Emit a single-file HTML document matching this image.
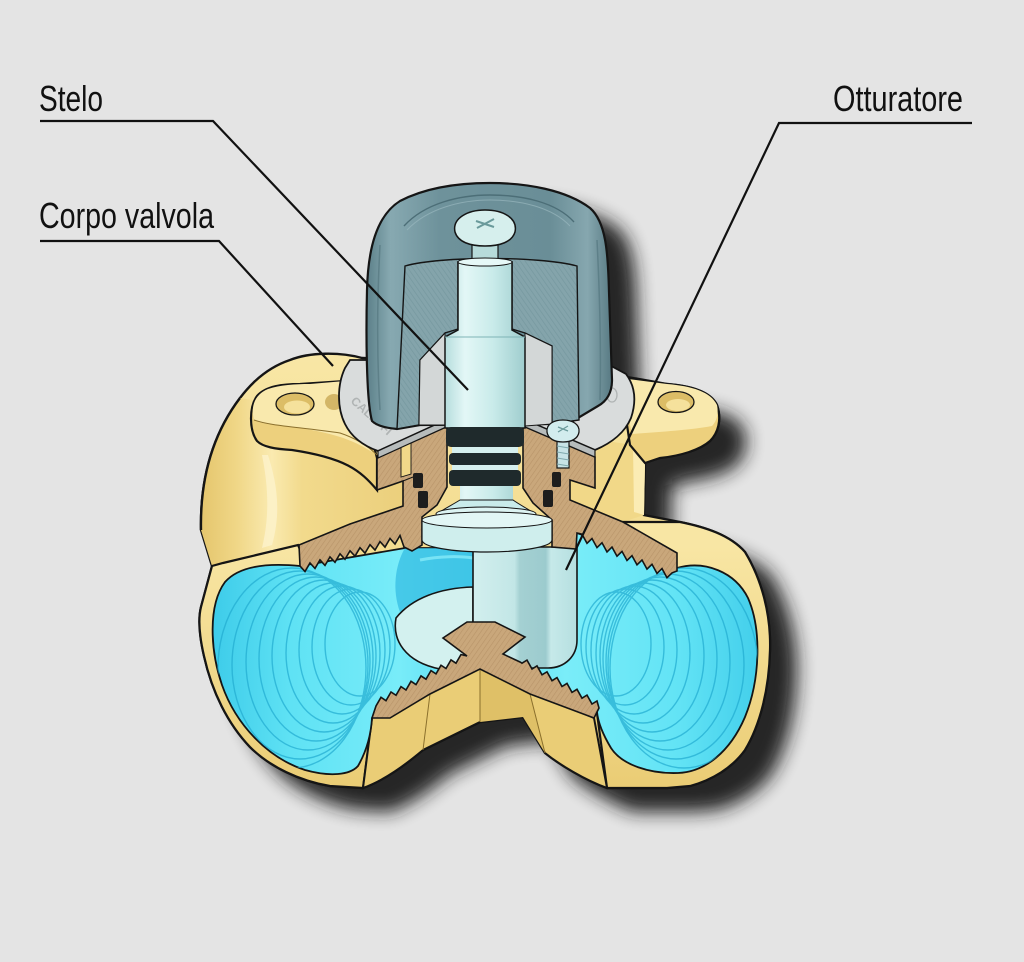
<!DOCTYPE html>
<html><head><meta charset="utf-8"><style>
html,body{margin:0;padding:0;background:#e4e4e4;}
svg{display:block;}
</style></head><body>
<svg width="1024" height="962" viewBox="0 0 1024 962" xmlns="http://www.w3.org/2000/svg">
<defs>
 <filter id="blur" x="-30%" y="-30%" width="160%" height="160%"><feGaussianBlur stdDeviation="9"/></filter>
 <pattern id="hb" width="4" height="4" patternUnits="userSpaceOnUse" patternTransform="rotate(35)"><rect width="4" height="4" fill="#c9a77b"/><line x1="0" y1="0" x2="0" y2="4" stroke="#b89469" stroke-width="1.2"/></pattern>
 <pattern id="hk" width="4" height="4" patternUnits="userSpaceOnUse" patternTransform="rotate(-35)"><rect width="4" height="4" fill="#84a4ab"/><line x1="0" y1="0" x2="0" y2="4" stroke="#76989f" stroke-width="1.4"/></pattern>
 <linearGradient id="gBase" x1="0" y1="350" x2="0" y2="790" gradientUnits="userSpaceOnUse">
  <stop offset="0" stop-color="#f8e7a6"/><stop offset="0.5" stop-color="#f3db8d"/><stop offset="1" stop-color="#e9cb73"/>
 </linearGradient>
 <linearGradient id="gBodyL" x1="200" y1="0" x2="405" y2="0" gradientUnits="userSpaceOnUse">
  <stop offset="0" stop-color="#e4c56c"/><stop offset="0.18" stop-color="#f0d787"/><stop offset="0.35" stop-color="#faeab0"/><stop offset="0.5" stop-color="#f2da8c"/><stop offset="1" stop-color="#ebcf7c"/>
 </linearGradient>
 <linearGradient id="gRimL" x1="0" y1="545" x2="0" y2="790" gradientUnits="userSpaceOnUse">
  <stop offset="0" stop-color="#f8e6a4"/><stop offset="1" stop-color="#eacc74"/>
 </linearGradient>
 <linearGradient id="gCyL" x1="210" y1="0" x2="480" y2="0" gradientUnits="userSpaceOnUse">
  <stop offset="0" stop-color="#3ccbe9"/><stop offset="0.3" stop-color="#5fe2f4"/><stop offset="0.7" stop-color="#78ecf9"/><stop offset="1" stop-color="#58daf1"/>
 </linearGradient>
 <linearGradient id="gCyR" x1="765" y1="0" x2="480" y2="0" gradientUnits="userSpaceOnUse">
  <stop offset="0" stop-color="#40cdea"/><stop offset="0.3" stop-color="#62e3f5"/><stop offset="0.7" stop-color="#7aedf9"/><stop offset="1" stop-color="#5adcf2"/>
 </linearGradient>
 <linearGradient id="gKnob" x1="366" y1="0" x2="612" y2="0" gradientUnits="userSpaceOnUse">
  <stop offset="0" stop-color="#5b7f88"/><stop offset="0.1" stop-color="#87a9b1"/><stop offset="0.3" stop-color="#6e929b"/><stop offset="0.75" stop-color="#6a8e97"/><stop offset="0.9" stop-color="#86a7af"/><stop offset="1" stop-color="#587a83"/>
 </linearGradient>
 <linearGradient id="gStem" x1="445" y1="0" x2="525" y2="0" gradientUnits="userSpaceOnUse">
  <stop offset="0" stop-color="#b6dddd"/><stop offset="0.25" stop-color="#e3f7f6"/><stop offset="0.6" stop-color="#c9ebea"/><stop offset="1" stop-color="#9fcdce"/>
 </linearGradient>
 <linearGradient id="gCyl" x1="473" y1="0" x2="577" y2="0" gradientUnits="userSpaceOnUse">
  <stop offset="0" stop-color="#d2efee"/><stop offset="0.4" stop-color="#c2e6e6"/><stop offset="0.45" stop-color="#a4d0d2"/><stop offset="0.7" stop-color="#9ccbce"/><stop offset="0.75" stop-color="#c6e9e9"/><stop offset="1" stop-color="#b5dfe0"/>
 </linearGradient>
 <path id="sil" d="M290,360 C310,352 340,352 362,358 L600,365 L627,377 L667,384 C690,386 710,391 717,405 C722,420 718,433 710,441 C700,450 680,455 660,458 L645,462 L644,515 L680,522 C705,527 730,535 745,552 C762,580 771,615 770,650 C769,690 760,725 745,750 C732,768 712,780 690,786 L667,788 L607,788 C585,780 560,765 545,753 L523,717 L480,722 L423,750 C405,765 385,780 363,788 L330,786 C300,781 270,767 250,747 C228,724 212,692 204,656 C198,630 199,615 201,607 L212,566 L201,530 C200,480 212,435 240,398 C255,378 272,366 290,360 Z"/>
 <path id="knobSil" d="M372,421 C366,400 366,330 367,290 C368,250 376,216 400,201 C425,188 455,183 490,183 C527,183 566,190 590,208 C606,222 608,252 609,292 L612,380 C612,392 607,401 598,406 L573,421 L552,424 L420,425 L397,429 C386,428 377,426 372,421 Z"/>
 <clipPath id="clipL"><path d="M300,566 C270,563 240,565 225,582 C208,605 210,650 222,685 C236,725 268,758 305,770 C330,777 350,775 358,766 C366,752 371,735 372,718 L480,660 L480,548 L405,548 Z"/></clipPath>
 <clipPath id="clipR"><path d="M677,568 C705,560 735,572 748,598 C762,630 760,680 745,717 C730,752 705,772 678,773 C650,774 622,765 611,748 C602,733 598,722 597,712 L480,660 L480,548 L552,548 L577,533 Z"/></clipPath>
</defs>

<rect width="1024" height="962" fill="#e4e4e4"/>

<!-- shadow -->
<g filter="url(#blur)" opacity="0.95">
 <use href="#sil" transform="translate(27,24)" fill="#1c1c1c"/>
 <use href="#knobSil" transform="translate(28,20)" fill="#1c1c1c"/>
</g>

<!-- body base -->
<use href="#sil" fill="url(#gBase)" stroke="#151515" stroke-width="2.4"/>

<!-- left body shading -->
<path d="M201,530 C200,480 212,435 240,398 L253,400 C249,410 249,430 257,441 C262,447 275,449 292,450 C320,452 345,456 360,465 L377,490 L403,482 L403,505 L350,524 L298,545 L223,563 L212,566 Z" fill="url(#gBodyL)"/>
<path d="M268,455 C276,480 282,510 272,545 L262,548 C270,515 268,485 262,455 Z" fill="#fdf3cc" opacity="0.8"/>
<path d="M201,530 C200,480 212,435 240,398" fill="none" stroke="#151515" stroke-width="2.4"/>

<!-- right body faces -->
<path d="M600,440 L633,445 L645,463 L644,515 L623,522 L570,500 L570,480 L595,488 L595,457 Z" fill="#f1d888"/>
<path d="M633,445 L645,463 L644,515 L634,512 Z" fill="#fbecb4"/>

<!-- left port rim -->
<path d="M223,563 L298,545 L372,718 L363,788 L330,786 C300,781 270,767 250,747 C228,724 212,692 204,656 C198,630 199,615 201,607 L212,566 Z" fill="url(#gRimL)" stroke="#151515" stroke-width="2.2"/>
<!-- right port rim -->
<path d="M623,522 L680,522 C705,527 730,535 745,552 C762,580 771,615 770,650 C769,690 760,725 745,750 C732,768 712,780 690,786 L667,788 L607,788 L597,713 Z" fill="url(#gRimL)" stroke="#151515" stroke-width="2.2"/>
<!-- bottom center -->
<path d="M372,718 L480,668 L594,718 L607,788 C585,780 560,765 545,753 L523,717 L480,722 L423,750 C405,765 385,780 363,788 Z" fill="#eacd76" stroke="#151515" stroke-width="2"/>
<path d="M480,668 L530,694 L545,753 L523,717 L480,722 Z" fill="#dfc067"/>
<path d="M430,694 L423,750 M480,668 L480,722 M530,694 L545,753" stroke="#8a6f2c" stroke-width="1" fill="none"/>

<!-- left ear -->
<path d="M257,441 C249,430 249,407 257,396 C266,386 283,384 300,384 L345,381 L362,400 L377,458 L377,490 C360,470 345,458 292,450 C275,449 263,447 257,441 Z" fill="#edd07d" stroke="#151515" stroke-width="2.2"/>
<path d="M254,420 C250,405 256,394 268,389 C280,385 295,384 310,384 L345,381 L372,452 C350,438 330,433 300,428 C275,425 260,424 254,420 Z" fill="#f9e9ad"/>
<path d="M254,420 C270,426 300,427 340,433 C355,438 368,446 377,455" fill="none" stroke="#8a6f2c" stroke-width="1"/>
<ellipse cx="295" cy="404" rx="19" ry="11" fill="#dcbd66" stroke="#151515" stroke-width="1.3"/>
<ellipse cx="297" cy="407" rx="13" ry="6.5" fill="#f5e19c"/>
<ellipse cx="334" cy="402" rx="9" ry="8" fill="#c9a955" opacity="0.8"/>

<!-- right ear -->
<path d="M620,378 L667,384 C692,386 711,392 717,405 C722,420 718,433 710,441 C700,450 680,456 660,458 L645,463 L630,445 Z" fill="#edd07d" stroke="#151515" stroke-width="2.2"/>
<path d="M620,378 L667,384 C692,386 711,392 717,405 C719,415 716,422 712,426 C690,430 660,432 632,434 Z" fill="#f9e9ad"/>
<ellipse cx="676" cy="402" rx="18" ry="10.5" fill="#dcbd66" stroke="#151515" stroke-width="1.3"/>
<ellipse cx="678" cy="405" rx="12" ry="6" fill="#f5e19c"/>

<!-- cyan ports -->
<path d="M300,566 C270,563 240,565 225,582 C208,605 210,650 222,685 C236,725 268,758 305,770 C330,777 350,775 358,766 C366,752 371,735 372,718 L480,660 L480,548 L405,548 Z" fill="url(#gCyL)" stroke="#151515" stroke-width="1.8"/>
<path d="M677,568 C705,560 735,572 748,598 C762,630 760,680 745,717 C730,752 705,772 678,773 C650,774 622,765 611,748 C602,733 598,722 597,712 L480,660 L480,548 L552,548 L577,533 Z" fill="url(#gCyR)" stroke="#151515" stroke-width="1.8"/>
<g clip-path="url(#clipL)" fill="none" stroke="#22abd0" stroke-width="1.4" opacity="0.7">
 <ellipse cx="292" cy="668" rx="74" ry="100"/><ellipse cx="300" cy="665" rx="68" ry="94"/><ellipse cx="308" cy="662" rx="62" ry="88"/>
 <ellipse cx="316" cy="659" rx="57" ry="82"/><ellipse cx="324" cy="656" rx="52" ry="76"/><ellipse cx="333" cy="653" rx="47" ry="70"/>
 <ellipse cx="342" cy="650" rx="43" ry="64"/><ellipse cx="351" cy="647" rx="39" ry="58"/><ellipse cx="360" cy="644" rx="35" ry="52"/>
</g>
<g clip-path="url(#clipR)" fill="none" stroke="#22abd0" stroke-width="1.4" opacity="0.7">
 <ellipse cx="684" cy="668" rx="74" ry="100"/><ellipse cx="676" cy="665" rx="68" ry="94"/><ellipse cx="668" cy="662" rx="62" ry="88"/>
 <ellipse cx="660" cy="659" rx="57" ry="82"/><ellipse cx="652" cy="656" rx="52" ry="76"/><ellipse cx="643" cy="653" rx="47" ry="70"/>
 <ellipse cx="634" cy="650" rx="43" ry="64"/><ellipse cx="625" cy="647" rx="39" ry="58"/><ellipse cx="616" cy="644" rx="35" ry="52"/>
</g>
<!-- back cavity shading -->
<path d="M405,548 L473,548 L473,587 C445,588 418,596 400,612 C392,590 395,565 405,548 Z" fill="#35bde3" opacity="0.75"/>
<path d="M420,560 C440,556 460,556 473,558" stroke="#8ff0fb" stroke-width="3" fill="none" opacity="0.7"/>

<!-- obturator -->
<path d="M473,587 C440,588 412,598 396,618 C392,640 405,662 440,669 L473,669 Z" fill="#d3f1ef" stroke="#151515" stroke-width="1.6"/>
<path d="M473,547 L577,547 L577,640 C577,656 565,668 548,668 L473,668 Z" fill="url(#gCyl)" stroke="#151515" stroke-width="1.6"/>

<!-- bottom brown Y -->
<path d="M443,638 L467,622 L495,622 L525,637 L503,654 L520,662 L522,663.2 L527,660.1 L532,669 L537,665.9 L542,674.8 L547,671.8 L552,680.7 L557,677.6 L562,686.5 L567,683.4 L572,692.4 L577,689.3 L582,698.2 L587,695.1 L592,704 L597,701 L599,708 L594,718 L530,694 L480,669 L430,694 L390,718 L372,718 L376,706 L381,697.3 L386,700.7 L391,692 L396,695.3 L401,686.6 L406,690 L411,681.3 L416,684.6 L421,675.9 L426,679.2 L431,670.6 L436,673.9 L441,665.2 L446,668.5 L451,659.9 L456,663.2 L461,654.5 L467,656 Z" fill="url(#hb)" stroke="#151515" stroke-width="1.6"/>

<!-- upper brown left -->
<path d="M377,458 L447,426.5 L447,487 L437,505 L422,517 L422,545 L412,551 L404,547 L400,535.5 L395,544 L390,538.5 L385,547.1 L380,541.6 L375,550.1 L370,544.7 L365,553.2 L360,547.7 L355,556.2 L350,550.8 L345,559.3 L340,553.8 L335,562.3 L330,556.9 L325,565.4 L320,559.9 L315,568.4 L310,563 L305,571.5 L300,566 L299,545 L350,524 L403,506 L403,481 L377,490 Z" fill="url(#hb)" stroke="#151515" stroke-width="1.6"/>
<path d="M401,446 L411,442 L411,474 L401,477 Z" fill="#f1d889" stroke="#151515" stroke-width="0.9"/>
<path d="M403,481 L413,477" stroke="#151515" stroke-width="1"/>
<rect x="413" y="473" width="10" height="15" rx="2" fill="#1d1d1d"/>
<rect x="418" y="491" width="10" height="17" rx="2" fill="#1d1d1d"/>

<!-- upper brown right -->
<path d="M523,426 L595,457 L595,488 L570,480 L570,500 L623,522 L677,553 L677,571 L672,572.9 L667,577.7 L662,568.6 L657,573.4 L652,564.3 L647,569.1 L642,560 L637,564.8 L632,555.7 L627,560.5 L622,551.4 L617,556.2 L612,547.1 L607,551.9 L602,542.8 L597,547.6 L592,538.5 L587,543.3 L582,534.2 L577,533 L576,549 L552,547 L552,520 L533,503 L523,488 Z" fill="url(#hb)" stroke="#151515" stroke-width="1.6"/>
<rect x="552" y="472" width="9" height="15" rx="2" fill="#1d1d1d"/>
<rect x="543" y="490" width="10" height="17" rx="2" fill="#1d1d1d"/>

<!-- washer -->
<path d="M345,368 C337,385 337,408 345,424 C352,438 364,446 378,451 L457,415 L457,360 L350,360 Z" fill="#d9dcdc" stroke="#151515" stroke-width="1.8"/>
<path d="M378,451 L457,415 L457,422 L378,458 Z" fill="#b7bcbc" stroke="#151515" stroke-width="1.2"/>
<path d="M523,419 L595,450 C612,443 625,432 631,418 C637,400 635,386 626,374 L600,360 L523,360 Z" fill="#d9dcdc" stroke="#151515" stroke-width="1.8"/>
<path d="M523,419 L595,450 L595,457 L523,426 Z" fill="#b7bcbc" stroke="#151515" stroke-width="1.2"/>
<text x="0" y="0" transform="translate(350,402) rotate(42)" font-family="Liberation Sans, sans-serif" font-size="12" font-weight="bold" fill="#b0b4b4">CALEFFI</text>
<ellipse cx="612" cy="395" rx="5" ry="7" fill="none" stroke="#b0b4b4" stroke-width="1.3"/>

<!-- knob -->
<use href="#knobSil" fill="url(#gKnob)" stroke="#151515" stroke-width="2.2"/>
<path d="M404,226 C425,203 460,195 490,195 C522,195 556,202 574,222" fill="none" stroke="#4c6e77" stroke-width="1.4"/>
<path d="M407,230 C428,208 462,200 490,200 C520,200 552,207 570,226" fill="none" stroke="#98b7be" stroke-width="1" opacity="0.7"/>
<path d="M380,245 C377,300 377,360 380,410" stroke="#557880" stroke-width="1.5" fill="none" opacity="0.7"/>
<path d="M597,240 C600,300 601,360 600,400" stroke="#557880" stroke-width="1.5" fill="none" opacity="0.7"/>
<path d="M405,266 C440,256 540,256 577,266 L579,420 L552,424 L552,346 L525,333 L512,329 L512,262 L458,262 L458,329 L445,333 L420,360 L419,425 L397,429 Z" fill="url(#hk)" stroke="#151515" stroke-width="1.4"/>
<path d="M420,360 L445,333 L445,425 L419,425 Z" fill="#d3d7d7" stroke="#151515" stroke-width="1"/>
<path d="M525,333 L552,346 L552,424 L525,426 Z" fill="#d3d7d7" stroke="#151515" stroke-width="1"/>

<!-- stem -->
<rect x="472" y="243" width="26" height="17" fill="#b7dbda" stroke="#151515" stroke-width="1.2"/>
<path d="M458,262 L512,262 L512,330 L525,337 L525,428 L445,428 L445,337 L458,330 Z" fill="url(#gStem)" stroke="#151515" stroke-width="1.5"/>
<ellipse cx="485" cy="262" rx="27" ry="4" fill="#e6f8f7" stroke="#151515" stroke-width="1"/>
<path d="M445,337 L525,337" stroke="#7fb4b6" stroke-width="1"/>
<path d="M455,232 C452,218 468,210 485,210 C503,210 518,218 515,232 C512,242 500,246 485,246 C470,246 458,242 455,232 Z" fill="#d6efed" stroke="#151515" stroke-width="1.5"/>
<path d="M476,221 L494,227 M494,219 L477,228" stroke="#6a9a9b" stroke-width="2"/>
<!-- o-rings -->
<rect x="446" y="427" width="78" height="20" rx="5" fill="#1f2a2c"/>
<rect x="452" y="447" width="66" height="6" fill="#d5efee"/>
<rect x="449" y="453" width="72" height="12" rx="4" fill="#1f2a2c"/>
<rect x="452" y="465" width="66" height="5" fill="#d5efee"/>
<rect x="449" y="470" width="72" height="16" rx="4" fill="#1f2a2c"/>
<rect x="460" y="486" width="53" height="17" fill="url(#gStem)"/>
<path d="M460,500 L513,500 C520,505 530,510 535,514 L437,514 C442,510 452,505 460,500 Z" fill="#c9ebea" stroke="#151515" stroke-width="1"/>
<ellipse cx="486" cy="514" rx="50" ry="7" fill="#dcf3f2" stroke="#151515" stroke-width="1"/>
<path d="M422,520 L552,520 L552,540 C552,547 520,552 487,552 C452,552 422,547 422,540 Z" fill="#cfeeed" stroke="#151515" stroke-width="1.2"/>
<ellipse cx="487" cy="520" rx="65" ry="8" fill="#e2f6f5" stroke="#151515" stroke-width="1"/>

<!-- screw -->
<rect x="557" y="440" width="12" height="28" fill="#c7e3e6" stroke="#151515" stroke-width="1.2"/>
<path d="M557,446 L569,448 M557,452 L569,454 M557,458 L569,460 M557,464 L569,466" stroke="#7fa9ad" stroke-width="1"/>
<path d="M547,432 C546,424 554,420 563,420 C572,420 580,424 579,432 C578,439 571,442 563,442 C555,442 548,439 547,432 Z" fill="#d2ecee" stroke="#151515" stroke-width="1.3"/>
<path d="M558,427 L568,431 M568,426 L558,432" stroke="#6a9a9b" stroke-width="1.3"/>

<!-- labels -->
<g font-family="Liberation Sans Narrow, Liberation Sans, sans-serif" font-size="36" fill="#111">
 <text x="39" y="111" textLength="64" lengthAdjust="spacingAndGlyphs">Stelo</text>
 <text x="39" y="228" textLength="175" lengthAdjust="spacingAndGlyphs">Corpo valvola</text>
 <text x="833" y="111" textLength="130" lengthAdjust="spacingAndGlyphs">Otturatore</text>
</g>
<g stroke="#111" stroke-width="2.2" fill="none" stroke-linejoin="miter">
 <path d="M40,121 L213,121 L468,390"/>
 <path d="M40,241 L219,241 L333,366"/>
 <path d="M972,123 L779,123 L566,570"/>
</g>
</svg>
</body></html>
